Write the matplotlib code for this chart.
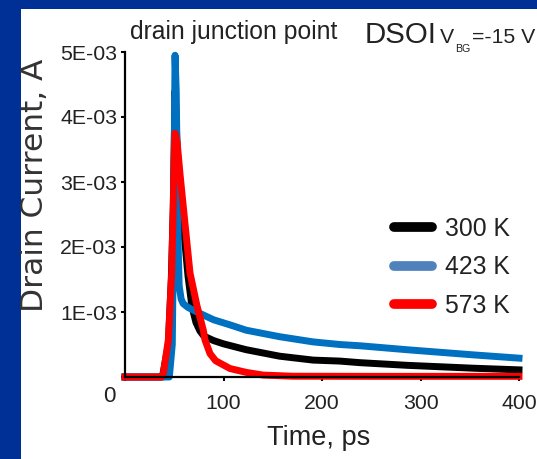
import matplotlib
matplotlib.use('Agg')
import matplotlib.pyplot as plt
from matplotlib import font_manager as fm
from matplotlib.lines import Line2D
from matplotlib.patches import Rectangle

# time (ps) and drain current (A)
t_300 = [0, 38, 44, 47, 49, 50.8, 53.5, 56, 60, 64, 68, 72, 76, 80, 90, 100, 123, 157, 191, 218, 239, 286, 354, 400]
i_300 = [0, 0, 0.5e-3, 1.5e-3, 2.6e-3, 4.4e-3, 3.3e-3, 2.9e-3, 2.2e-3, 1.55e-3, 1.08e-3, 0.84e-3, 0.71e-3, 0.63e-3,
         0.56e-3, 0.51e-3, 0.42e-3, 0.32e-3, 0.26e-3, 0.245e-3, 0.22e-3, 0.18e-3, 0.135e-3, 0.11e-3]

t_423 = [0, 45, 48, 49.5, 50.8, 52, 53, 54, 55, 57, 59, 64, 73, 90, 107, 123, 157, 191, 218, 239, 286, 354, 400]
i_423 = [0, 0, 0.5e-3, 2.5e-3, 4.95e-3, 4.4e-3, 3.2e-3, 2.0e-3, 1.4e-3, 1.2e-3, 1.13e-3, 1.07e-3, 1.0e-3, 0.88e-3,
         0.8e-3, 0.72e-3, 0.62e-3, 0.54e-3, 0.5e-3, 0.48e-3, 0.42e-3, 0.34e-3, 0.29e-3]

t_573 = [0, 37, 39, 44, 47.4, 49, 50, 50.8, 53, 55.8, 60.9, 66, 73, 79.5, 81.2, 86.3, 92, 106.6, 123.5, 140, 170, 250, 400]
i_573 = [0, 0, 0.06e-3, 0.57e-3, 1.6e-3, 2.62e-3, 3.39e-3, 3.75e-3, 3.6e-3, 3.13e-3, 2.36e-3, 1.6e-3, 1.1e-3, 0.72e-3,
         0.57e-3, 0.36e-3, 0.25e-3, 0.13e-3, 0.07e-3, 0.03e-3, 0.012e-3, 0.01e-3, 0.01e-3]

x_ticks = [0, 100, 200, 300, 400]
x_ticklabels = ['', '100', '200', '300', '400']
y_ticks = [0, 1e-3, 2e-3, 3e-3, 4e-3, 5e-3]
y_ticklabels = ['', '1E-03', '2E-03', '3E-03', '4E-03', '5E-03']
labels = ['300 K', '423 K', '573 K']

W, H = 537, 459
def fx(px): return px / W
def fy(py): return 1 - py / H

names = {f.name for f in fm.fontManager.ttflist}
NARROW = 'Liberation Sans Narrow' in names
fam = ['Liberation Sans Narrow', 'Liberation Sans', 'DejaVu Sans'] if NARROW else ['Liberation Sans', 'DejaVu Sans']
k = 1.0 if NARROW else 0.85
plt.rcParams['font.family'] = fam
txt = '#222222'

fig = plt.figure(figsize=(5.37, 4.59), dpi=100, facecolor='#003096')
fig.patches.append(Rectangle((fx(21), 0), 1 - fx(21), fy(9), transform=fig.transFigure,
                             facecolor='white', edgecolor='none', zorder=-5))
ax = fig.add_axes([fx(125), fy(377), fx(519) - fx(125), fy(52) - fy(377)])
ax.set_facecolor('none')

ax.plot(t_300, i_300, color='black', lw=5, clip_on=False, solid_joinstyle='round')
ax.plot(t_423, i_423, color='#0070C0', lw=5, clip_on=False, solid_joinstyle='round')
ax.plot(t_573, i_573, color='#FF0000', lw=5, clip_on=False, solid_joinstyle='round')

ax.set_xlim(0, 400)
ax.set_ylim(0, 5e-3)
for s in ['top', 'right']:
    ax.spines[s].set_visible(False)
for s in ['left', 'bottom']:
    ax.spines[s].set_linewidth(1.6)
ax.set_xticks(x_ticks)
ax.set_xticklabels(x_ticklabels)
ax.set_yticks(y_ticks)
ax.set_yticklabels(y_ticklabels)
ax.tick_params(axis='both', direction='out', length=3, width=1.5, labelsize=18 * k, colors='black', labelcolor=txt)
ax.tick_params(axis='x', pad=9)
ax.tick_params(axis='y', pad=2.5)

fig.text(fx(109.5), fy(396), '0', fontsize=19 * k, color=txt, ha='center', va='center')
fig.text(fx(319), fy(445), 'Time, ps', fontsize=23 * k, color=txt, ha='center', va='baseline')
fig.text(fx(35), fy(185), 'Drain Current, A', fontsize=22.5, color='#333333', ha='center', va='center',
         rotation=90, family=['DejaVu Sans'])

fig.text(fx(130), fy(39), 'drain junction point', fontsize=21 * k, color=txt, ha='left', va='baseline')
fig.text(fx(365), fy(43), 'DSOI', fontsize=25 * k, color=txt, ha='left', va='baseline')
fig.text(fx(440), fy(43), 'V', fontsize=18 * k, color=txt, ha='left', va='baseline')
fig.text(fx(455), fy(52), 'BG', fontsize=9 * k, color=txt, ha='left', va='baseline')
fig.text(fx(472), fy(43), '=-15 V', fontsize=18 * k, color=txt, ha='left', va='baseline')

handles = [Line2D([], [], color=c, lw=7, solid_capstyle='round') for c in ['black', '#4F81BD', '#FF0000']]
fig.legend(handles, labels, loc='upper left', bbox_to_anchor=(fx(394), fy(217)), frameon=False,
           fontsize=21 * k, handlelength=1.55, handletextpad=0.5, labelspacing=0.58,
           borderpad=0, borderaxespad=0, labelcolor=txt)

fig.savefig('out.png', dpi=100, facecolor=fig.get_facecolor())
